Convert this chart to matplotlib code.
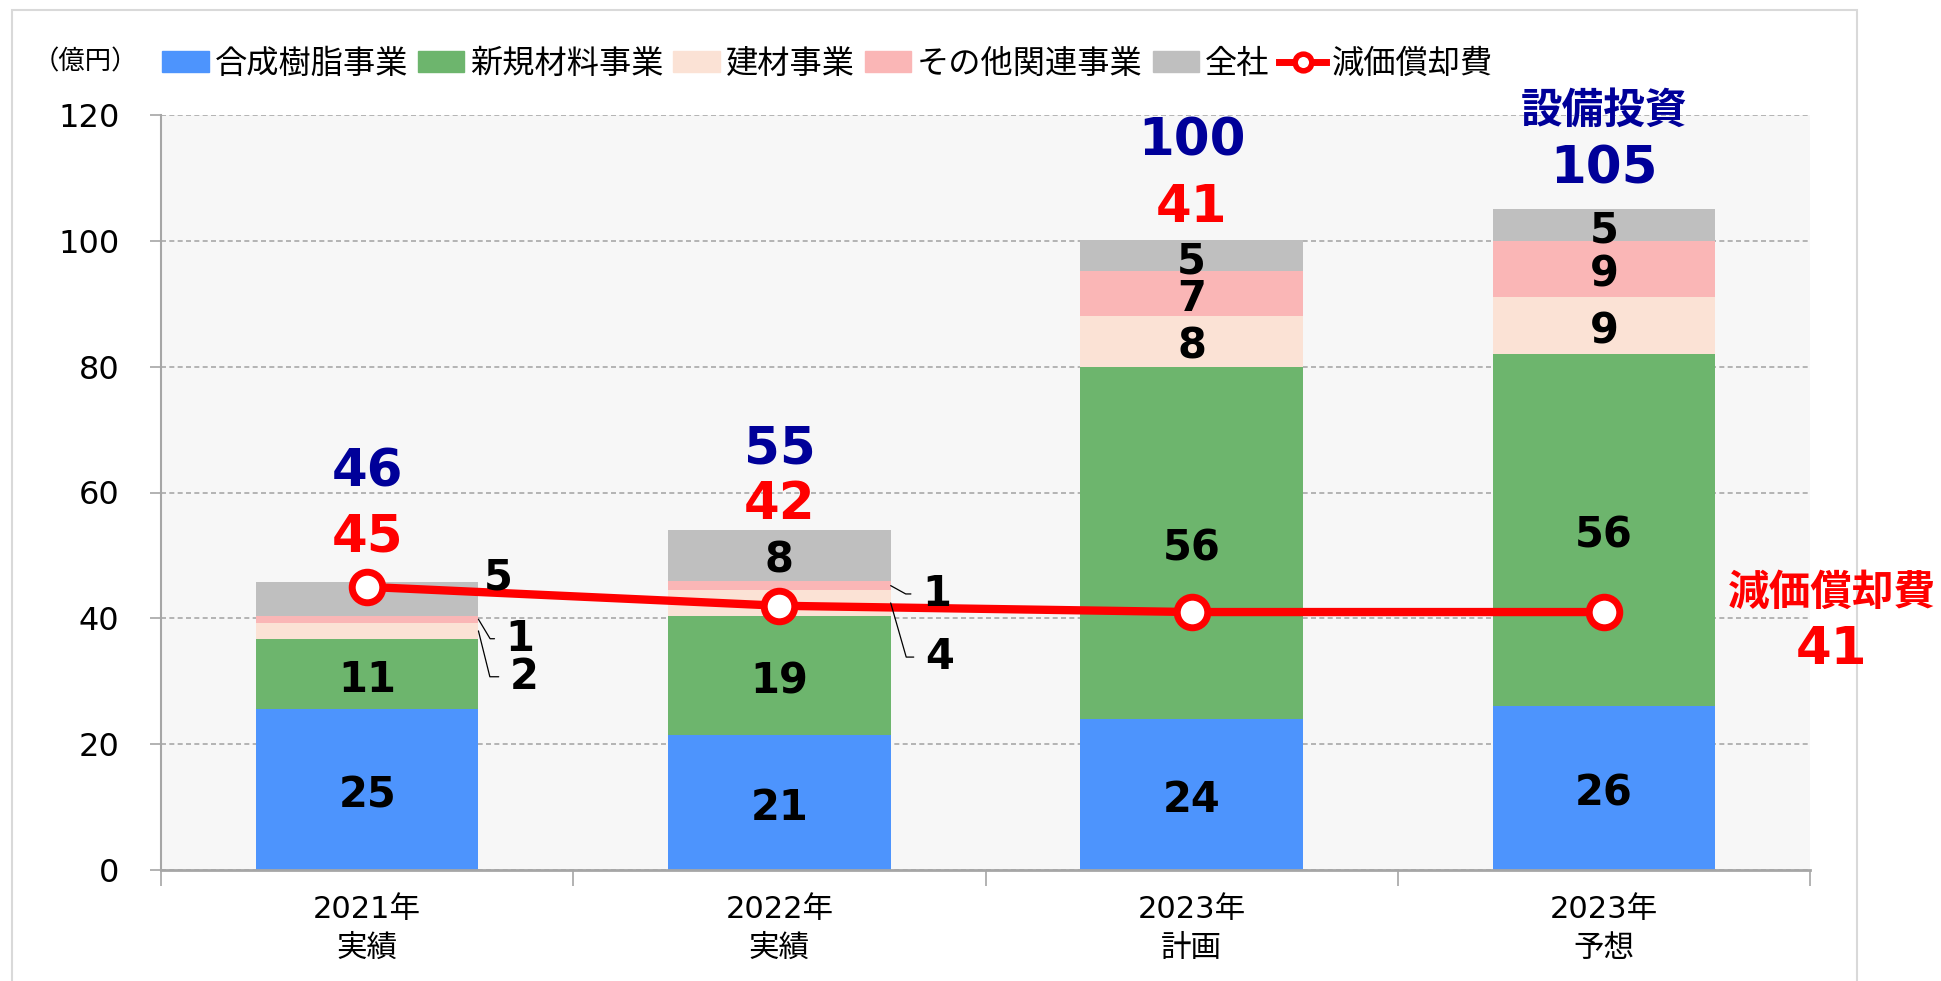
import numpy as np
import matplotlib
matplotlib.use("Agg")
import matplotlib.pyplot as plt
from matplotlib.patches import Patch, Rectangle
from matplotlib.lines import Line2D

# data (bar heights, labels as printed)
years = ["2021年\n実績", "2022年\n実績", "2023年\n計画", "2023年\n予想"]
names = ["合成樹脂事業", "新規材料事業", "建材事業", "その他関連事業", "全社"]
resin = [25.6, 21.4, 24.0, 26.0]
new_mat = [11.1, 19.0, 56.0, 56.0]
building = [2.6, 4.1, 8.1, 9.0]
other = [1.1, 1.4, 7.1, 9.0]
corporate = [5.4, 8.2, 4.9, 5.0]
resin_lbl = [25, 21, 24, 26]
new_mat_lbl = [11, 19, 56, 56]
building_lbl = [2, 4, 8, 9]
other_lbl = [1, 1, 7, 9]
corporate_lbl = [5, 8, 5, 5]
capex_total = [46, 55, 100, 105]
depreciation = [45, 42, 41, 41]

colors = ["#4d94fd", "#6db56d", "#fbe2d5", "#fab6b6", "#bfbfbf"]
NAVY = "#000099"
RED = "#ff0000"
JP = ["Noto Sans CJK JP", "DejaVu Sans"]

plt.rcParams["font.family"] = ["DejaVu Sans", "Noto Sans CJK JP"]

series = [resin, new_mat, building, other, corporate]
labels = [resin_lbl, new_mat_lbl, building_lbl, other_lbl, corporate_lbl]

# labels drawn outside the bar: (series, bar) -> (dx, dy, leader angle)
outside = {
    (4, 0): (4, 3, None),
    (3, 0): (30, -14, -59),
    (2, 0): (33, -33, -76),
    (3, 1): (33, -6, -29),
    (2, 1): (35, -39, -74),
}
# vertical offsets (points) of the two labels above each bar
red_off = [32, 18, 23, 29]
blue_off = [79, 58, 71, 71]

fig = plt.figure(figsize=(19.41, 9.81), dpi=100)
ax = fig.add_axes([161 / 1941, 111 / 981, 1649 / 1941, 755 / 981])
ax.set_facecolor("#f7f7f7")

x = np.arange(len(years))
w = 0.54
bottom = np.zeros(len(years))
for k, (vals, lbls) in enumerate(zip(series, labels)):
    vals = np.array(vals)
    ax.bar(x, vals, w, bottom=bottom, color=colors[k], zorder=2)
    for i in range(len(x)):
        mid = bottom[i] + vals[i] / 2
        if (k, i) in outside:
            dx, dy, ang = outside[(k, i)]
            if ang is None:
                ax.annotate(str(lbls[i]), xy=(x[i] + w / 2, bottom[i] + vals[i]),
                            xytext=(dx, dy), textcoords="offset points",
                            ha="left", va="center", fontsize=30,
                            fontweight="bold", zorder=5)
            else:
                ax.annotate(str(lbls[i]), xy=(x[i] + w / 2, mid),
                            xytext=(dx, dy), textcoords="offset points",
                            ha="center", va="center", fontsize=30,
                            fontweight="bold", zorder=5,
                            arrowprops=dict(arrowstyle="-", color="black", lw=0.9,
                                            relpos=(0, 0.5), shrinkA=6, shrinkB=0,
                                            connectionstyle=f"angle,angleA=0,angleB={ang},rad=0"))
        else:
            ax.annotate(str(lbls[i]), xy=(x[i], mid), xytext=(0, -4),
                        textcoords="offset points", ha="center", va="center",
                        fontsize=30, fontweight="bold", zorder=5)
    bottom = bottom + vals

ax.plot(x, depreciation, color=RED, lw=6, marker="o", ms=22, mfc="white",
        mec=RED, mew=5, zorder=4)

for i in range(len(x)):
    top = bottom[i]
    if i < len(x) - 1:
        ax.annotate(str(depreciation[i]), xy=(x[i], top), xytext=(0, red_off[i]),
                    textcoords="offset points", ha="center", va="center",
                    fontsize=37, fontweight="bold", color=RED, zorder=5)
        ax.annotate(str(capex_total[i]), xy=(x[i], top), xytext=(0, blue_off[i]),
                    textcoords="offset points", ha="center", va="center",
                    fontsize=37, fontweight="bold", color=NAVY, zorder=5)
    else:
        ax.annotate(str(capex_total[i]), xy=(x[i], top), xytext=(0, red_off[i]),
                    textcoords="offset points", ha="center", va="center",
                    fontsize=37, fontweight="bold", color=NAVY, zorder=5)
        ax.annotate("設備投資", xy=(x[i], top), xytext=(0, blue_off[i]),
                    textcoords="offset points", ha="center", va="center",
                    fontsize=30, fontweight="bold", color=NAVY, family=JP,
                    zorder=5, annotation_clip=False)

# depreciation callout on the right
ax.annotate("減価償却費", xy=(x[-1], depreciation[-1]), xytext=(164, 14),
            textcoords="offset points", ha="center", va="center", fontsize=30,
            fontweight="bold", color=RED, family=JP, annotation_clip=False)
ax.annotate(str(depreciation[-1]), xy=(x[-1], depreciation[-1]), xytext=(164, -27),
            textcoords="offset points", ha="center", va="center", fontsize=37,
            fontweight="bold", color=RED, annotation_clip=False)

ax.set_xlim(-0.5, len(x) - 0.5)
ax.set_ylim(0, 120)
ax.set_yticks(range(0, 121, 20))
ax.grid(axis="y", color="#a8a8a8", linestyle=(0, (3, 2)), lw=1.2)
ax.set_axisbelow(True)
ax.set_xticks(x)
ax.set_xticklabels(years, fontsize=22, linespacing=1.45)
ax.set_xticks(np.arange(-0.5, len(x)), minor=True)
ax.tick_params(axis="x", which="major", length=0, pad=18)
ax.tick_params(axis="x", which="minor", length=11.5, color="#a6a6a6", width=1.2)
ax.tick_params(axis="y", length=8, color="#a6a6a6", width=1.2, pad=22, labelsize=23)
for side in ["top", "right"]:
    ax.spines[side].set_visible(False)
ax.spines["left"].set_color("#a6a6a6")
ax.spines["left"].set_linewidth(1.5)
ax.spines["bottom"].set_color("#a6a6a6")
ax.spines["bottom"].set_linewidth(2)

handles = [Patch(color=c) for c in colors]
handles.append(Line2D([], [], color=RED, lw=5, marker="o", ms=12, mfc="white",
                      mec=RED, mew=4))
fig.legend(handles, names + ["減価償却費"], loc="center left",
           bbox_to_anchor=(162 / 1941, 1 - 64 / 981), ncol=6, frameon=False,
           prop={"family": JP, "size": 23.2}, handlelength=1.45, handleheight=0.6,
           handletextpad=0.18, columnspacing=0.3, borderpad=0, borderaxespad=0)
fig.text(33 / 1941, 1 - 62 / 981, "（億円）", ha="left", va="center",
         fontsize=19, family=JP)

fig.add_artist(Rectangle((12 / 1941, -0.05), 1845 / 1941, 1.05 - 10 / 981,
                         transform=fig.transFigure, fill=False,
                         edgecolor="#d9d9d9", lw=1.5, zorder=-1))

fig.savefig("out.png", dpi=100)
